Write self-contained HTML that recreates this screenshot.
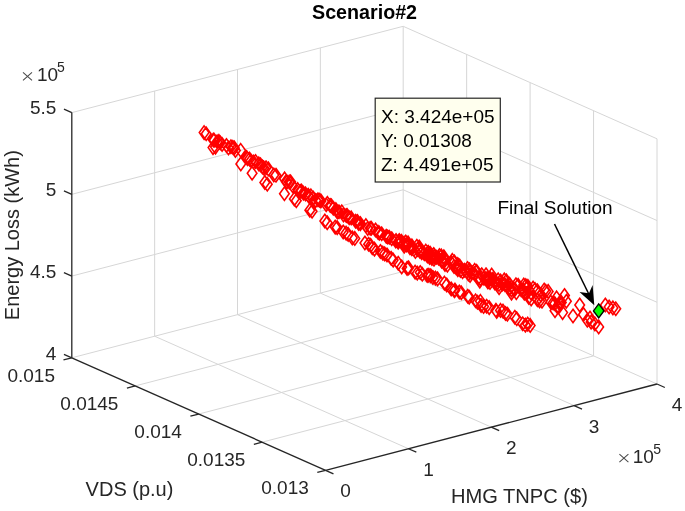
<!DOCTYPE html>
<html><head><meta charset="utf-8"><style>
html,body{margin:0;padding:0;background:#fff;}
svg{display:block;filter:blur(0.4px);}
text{font-family:"Liberation Sans",sans-serif;}
</style></head><body>
<svg width="685" height="511" viewBox="0 0 685 511">
<rect width="685" height="511" fill="#fff"/>
<g shape-rendering="geometricPrecision">
<line x1="154.65" y1="336.23" x2="154.65" y2="91.04" stroke="#d6d6d6" stroke-width="1.0"/>
<line x1="237.50" y1="314.65" x2="237.50" y2="69.46" stroke="#d6d6d6" stroke-width="1.0"/>
<line x1="320.35" y1="293.08" x2="320.35" y2="47.89" stroke="#d6d6d6" stroke-width="1.0"/>
<line x1="403.20" y1="271.50" x2="403.20" y2="26.31" stroke="#d6d6d6" stroke-width="1.0"/>
<line x1="71.80" y1="276.07" x2="403.20" y2="189.77" stroke="#d6d6d6" stroke-width="1.0"/>
<line x1="71.80" y1="194.34" x2="403.20" y2="108.04" stroke="#d6d6d6" stroke-width="1.0"/>
<line x1="71.80" y1="112.61" x2="403.20" y2="26.31" stroke="#d6d6d6" stroke-width="1.0"/>
<line x1="657.00" y1="384.00" x2="657.00" y2="138.81" stroke="#d6d6d6" stroke-width="1.0"/>
<line x1="593.55" y1="355.88" x2="593.55" y2="110.69" stroke="#d6d6d6" stroke-width="1.0"/>
<line x1="530.10" y1="327.75" x2="530.10" y2="82.56" stroke="#d6d6d6" stroke-width="1.0"/>
<line x1="466.65" y1="299.62" x2="466.65" y2="54.43" stroke="#d6d6d6" stroke-width="1.0"/>
<line x1="403.20" y1="189.77" x2="657.00" y2="302.27" stroke="#d6d6d6" stroke-width="1.0"/>
<line x1="403.20" y1="108.04" x2="657.00" y2="220.54" stroke="#d6d6d6" stroke-width="1.0"/>
<line x1="403.20" y1="26.31" x2="657.00" y2="138.81" stroke="#d6d6d6" stroke-width="1.0"/>
<line x1="154.65" y1="336.23" x2="408.45" y2="448.73" stroke="#d6d6d6" stroke-width="1.0"/>
<line x1="237.50" y1="314.65" x2="491.30" y2="427.15" stroke="#d6d6d6" stroke-width="1.0"/>
<line x1="320.35" y1="293.08" x2="574.15" y2="405.58" stroke="#d6d6d6" stroke-width="1.0"/>
<line x1="403.20" y1="271.50" x2="657.00" y2="384.00" stroke="#d6d6d6" stroke-width="1.0"/>
<line x1="262.15" y1="442.17" x2="593.55" y2="355.88" stroke="#d6d6d6" stroke-width="1.0"/>
<line x1="198.70" y1="414.05" x2="530.10" y2="327.75" stroke="#d6d6d6" stroke-width="1.0"/>
<line x1="135.25" y1="385.92" x2="466.65" y2="299.62" stroke="#d6d6d6" stroke-width="1.0"/>
<line x1="71.80" y1="357.80" x2="403.20" y2="271.50" stroke="#d6d6d6" stroke-width="1.0"/>
</g>
<g>
<line x1="71.80" y1="357.80" x2="71.80" y2="112.61" stroke="#262626" stroke-width="1.3"/>
<line x1="71.80" y1="357.80" x2="325.60" y2="470.30" stroke="#262626" stroke-width="1.3"/>
<line x1="325.60" y1="470.30" x2="657.00" y2="384.00" stroke="#262626" stroke-width="1.3"/>
<line x1="71.80" y1="357.80" x2="63.94" y2="354.31" stroke="#262626" stroke-width="1.3"/>
<line x1="71.80" y1="276.07" x2="63.94" y2="272.58" stroke="#262626" stroke-width="1.3"/>
<line x1="71.80" y1="194.34" x2="63.94" y2="190.85" stroke="#262626" stroke-width="1.3"/>
<line x1="71.80" y1="112.61" x2="63.94" y2="109.12" stroke="#262626" stroke-width="1.3"/>
<line x1="325.60" y1="470.30" x2="317.28" y2="472.47" stroke="#262626" stroke-width="1.3"/>
<line x1="262.15" y1="442.17" x2="253.83" y2="444.34" stroke="#262626" stroke-width="1.3"/>
<line x1="198.70" y1="414.05" x2="190.38" y2="416.22" stroke="#262626" stroke-width="1.3"/>
<line x1="135.25" y1="385.92" x2="126.93" y2="388.09" stroke="#262626" stroke-width="1.3"/>
<line x1="71.80" y1="357.80" x2="63.48" y2="359.97" stroke="#262626" stroke-width="1.3"/>
<line x1="325.60" y1="470.30" x2="333.46" y2="473.79" stroke="#262626" stroke-width="1.3"/>
<line x1="408.45" y1="448.73" x2="416.31" y2="452.21" stroke="#262626" stroke-width="1.3"/>
<line x1="491.30" y1="427.15" x2="499.16" y2="430.64" stroke="#262626" stroke-width="1.3"/>
<line x1="574.15" y1="405.58" x2="582.01" y2="409.06" stroke="#262626" stroke-width="1.3"/>
<line x1="657.00" y1="384.00" x2="664.86" y2="387.49" stroke="#262626" stroke-width="1.3"/>
</g>
<g>
<path d="M204.1,125.9L208.9,132.6L204.1,139.3L199.3,132.6ZM206.2,127.1L211.0,133.8L206.2,140.5L201.4,133.8ZM213.3,133.3L218.1,140.0L213.3,146.7L208.5,140.0ZM214.2,133.6L219.0,140.3L214.2,147.0L209.4,140.3ZM217.1,135.1L221.9,141.8L217.1,148.5L212.3,141.8ZM218.9,134.7L223.7,141.4L218.9,148.1L214.1,141.4ZM220.2,136.0L225.0,142.7L220.2,149.4L215.4,142.7ZM222.1,137.8L226.9,144.5L222.1,151.2L217.3,144.5ZM226.4,138.8L231.2,145.5L226.4,152.2L221.6,145.5ZM228.5,141.3L233.3,148.0L228.5,154.7L223.7,148.0ZM230.9,140.0L235.7,146.7L230.9,153.4L226.1,146.7ZM232.8,140.6L237.6,147.3L232.8,154.0L228.0,147.3ZM234.3,141.2L239.1,147.9L234.3,154.6L229.5,147.9ZM235.4,143.8L240.2,150.5L235.4,157.2L230.6,150.5ZM240.7,143.6L245.5,150.3L240.7,157.0L235.9,150.3ZM246.6,150.8L251.4,157.5L246.6,164.2L241.8,157.5ZM247.5,152.1L252.3,158.8L247.5,165.5L242.7,158.8ZM249.6,152.4L254.4,159.1L249.6,165.8L244.8,159.1ZM251.0,154.1L255.8,160.8L251.0,167.5L246.2,160.8ZM253.4,155.3L258.2,162.0L253.4,168.7L248.6,162.0ZM255.5,154.8L260.3,161.5L255.5,168.2L250.7,161.5ZM258.8,157.2L263.6,163.9L258.8,170.6L254.0,163.9ZM260.4,158.0L265.2,164.7L260.4,171.4L255.6,164.7ZM262.4,160.2L267.2,166.9L262.4,173.6L257.6,166.9ZM263.8,161.2L268.6,167.9L263.8,174.6L259.0,167.9ZM266.0,161.0L270.8,167.7L266.0,174.4L261.2,167.7ZM268.4,162.2L273.2,168.9L268.4,175.6L263.6,168.9ZM273.8,168.3L278.6,175.0L273.8,181.7L269.0,175.0ZM276.0,168.5L280.8,175.2L276.0,181.9L271.2,175.2ZM284.6,172.2L289.4,178.9L284.6,185.6L279.8,178.9ZM286.1,174.9L290.9,181.6L286.1,188.3L281.3,181.6ZM287.0,175.3L291.8,182.0L287.0,188.7L282.2,182.0ZM289.2,175.3L294.0,182.0L289.2,188.7L284.4,182.0ZM290.6,175.1L295.4,181.8L290.6,188.5L285.8,181.8ZM292.6,179.0L297.4,185.7L292.6,192.4L287.8,185.7ZM297.6,182.8L302.4,189.5L297.6,196.2L292.8,189.5ZM300.3,184.8L305.1,191.5L300.3,198.2L295.5,191.5ZM301.4,184.3L306.2,191.0L301.4,197.7L296.6,191.0ZM303.4,186.4L308.2,193.1L303.4,199.8L298.6,193.1ZM305.5,187.2L310.3,193.9L305.5,200.6L300.7,193.9ZM308.2,188.5L313.0,195.2L308.2,201.9L303.4,195.2ZM309.0,189.7L313.8,196.4L309.0,203.1L304.2,196.4ZM310.9,189.1L315.7,195.8L310.9,202.5L306.1,195.8ZM313.3,191.4L318.1,198.1L313.3,204.8L308.5,198.1ZM315.8,193.8L320.6,200.5L315.8,207.2L311.0,200.5ZM317.9,193.0L322.7,199.7L317.9,206.4L313.1,199.7ZM319.4,193.5L324.2,200.2L319.4,206.9L314.6,200.2ZM320.9,194.3L325.7,201.0L320.9,207.7L316.1,201.0ZM326.2,198.1L331.0,204.8L326.2,211.5L321.4,204.8ZM327.4,196.6L332.2,203.3L327.4,210.0L322.6,203.3ZM330.2,198.8L335.0,205.5L330.2,212.2L325.4,205.5ZM331.3,199.0L336.1,205.7L331.3,212.4L326.5,205.7ZM333.3,201.5L338.1,208.2L333.3,214.9L328.5,208.2ZM335.9,202.9L340.7,209.6L335.9,216.3L331.1,209.6ZM337.3,205.2L342.1,211.9L337.3,218.6L332.5,211.9ZM339.0,205.1L343.8,211.8L339.0,218.5L334.2,211.8ZM341.8,205.1L346.6,211.8L341.8,218.5L337.0,211.8ZM343.5,208.2L348.3,214.9L343.5,221.6L338.7,214.9ZM346.2,208.8L351.0,215.5L346.2,222.2L341.4,215.5ZM347.3,208.9L352.1,215.6L347.3,222.3L342.5,215.6ZM349.2,211.0L354.0,217.7L349.2,224.4L344.4,217.7ZM351.2,211.2L356.0,217.9L351.2,224.6L346.4,217.9ZM355.6,214.5L360.4,221.2L355.6,227.9L350.8,221.2ZM357.4,214.8L362.2,221.5L357.4,228.2L352.6,221.5ZM358.6,216.8L363.4,223.5L358.6,230.2L353.8,223.5ZM360.4,216.9L365.2,223.6L360.4,230.3L355.6,223.6ZM365.9,218.9L370.7,225.6L365.9,232.3L361.1,225.6ZM367.7,221.8L372.5,228.5L367.7,235.2L362.9,228.5ZM370.2,221.6L375.0,228.3L370.2,235.0L365.4,228.3ZM371.4,221.6L376.2,228.3L371.4,235.0L366.6,228.3ZM375.5,223.3L380.3,230.0L375.5,236.7L370.7,230.0ZM378.1,225.7L382.9,232.4L378.1,239.1L373.3,232.4ZM379.4,226.4L384.2,233.1L379.4,239.8L374.6,233.1ZM381.7,227.1L386.5,233.8L381.7,240.5L376.9,233.8ZM386.2,229.5L391.0,236.2L386.2,242.9L381.4,236.2ZM387.6,230.3L392.4,237.0L387.6,243.7L382.8,237.0ZM389.3,230.6L394.1,237.3L389.3,244.0L384.5,237.3ZM391.7,232.0L396.5,238.7L391.7,245.4L386.9,238.7ZM395.7,234.3L400.5,241.0L395.7,247.7L390.9,241.0ZM398.2,235.6L403.0,242.3L398.2,249.0L393.4,242.3ZM396.0,233.8L400.8,240.5L396.0,247.2L391.2,240.5ZM398.4,235.1L403.2,241.8L398.4,248.5L393.6,241.8ZM399.2,233.8L404.0,240.5L399.2,247.2L394.4,240.5ZM401.5,234.6L406.3,241.3L401.5,248.0L396.7,241.3ZM404.2,239.6L409.0,246.3L404.2,253.0L399.4,246.3ZM404.1,236.7L408.9,243.4L404.1,250.1L399.3,243.4ZM406.5,238.3L411.3,245.0L406.5,251.7L401.7,245.0ZM405.7,235.3L410.5,242.0L405.7,248.7L400.9,242.0ZM408.1,236.2L412.9,242.9L408.1,249.6L403.3,242.9ZM409.9,240.9L414.7,247.6L409.9,254.3L405.1,247.6ZM411.8,242.0L416.6,248.7L411.8,255.4L407.0,248.7ZM413.9,242.8L418.7,249.5L413.9,256.2L409.1,249.5ZM411.9,239.2L416.7,245.9L411.9,252.6L407.1,245.9ZM415.4,244.8L420.2,251.5L415.4,258.2L410.6,251.5ZM417.5,242.8L422.3,249.5L417.5,256.2L412.7,249.5ZM419.7,243.5L424.5,250.2L419.7,256.9L414.9,250.2ZM416.8,239.5L421.6,246.2L416.8,252.9L412.0,246.2ZM419.2,240.3L424.0,247.0L419.2,253.7L414.4,247.0ZM419.8,244.6L424.6,251.3L419.8,258.0L415.0,251.3ZM421.7,246.0L426.5,252.7L421.7,259.4L416.9,252.7ZM424.3,247.0L429.1,253.7L424.3,260.4L419.5,253.7ZM425.8,244.4L430.6,251.1L425.8,257.8L421.0,251.1ZM428.2,245.5L433.0,252.2L428.2,258.9L423.4,252.2ZM430.3,246.7L435.1,253.4L430.3,260.1L425.5,253.4ZM427.4,249.3L432.2,256.0L427.4,262.7L422.6,256.0ZM429.6,250.7L434.4,257.4L429.6,264.1L424.8,257.4ZM431.9,251.7L436.7,258.4L431.9,265.1L427.1,258.4ZM432.5,249.9L437.3,256.6L432.5,263.3L427.7,256.6ZM433.7,247.8L438.5,254.5L433.7,261.2L428.9,254.5ZM434.0,252.6L438.8,259.3L434.0,266.0L429.2,259.3ZM434.5,249.8L439.3,256.5L434.5,263.2L429.7,256.5ZM436.5,250.6L441.3,257.3L436.5,264.0L431.7,257.3ZM438.6,251.6L443.4,258.3L438.6,265.0L433.8,258.3ZM439.4,248.9L444.2,255.6L439.4,262.3L434.6,255.6ZM441.3,249.2L446.1,255.9L441.3,262.6L436.5,255.9ZM443.8,250.0L448.6,256.7L443.8,263.4L439.0,256.7ZM441.7,254.6L446.5,261.3L441.7,268.0L436.9,261.3ZM443.9,255.1L448.7,261.8L443.9,268.5L439.1,261.8ZM444.4,252.3L449.2,259.0L444.4,265.7L439.6,259.0ZM445.0,257.8L449.8,264.5L445.0,271.2L440.2,264.5ZM447.4,258.5L452.2,265.2L447.4,271.9L442.6,265.2ZM451.5,256.3L456.3,263.0L451.5,269.7L446.7,263.0ZM452.3,253.6L457.1,260.3L452.3,267.0L447.5,260.3ZM454.4,255.1L459.2,261.8L454.4,268.5L449.6,261.8ZM454.0,259.8L458.8,266.5L454.0,273.2L449.2,266.5ZM455.9,260.8L460.7,267.5L455.9,274.2L451.1,267.5ZM458.2,261.6L463.0,268.3L458.2,275.0L453.4,268.3ZM457.7,257.8L462.5,264.5L457.7,271.2L452.9,264.5ZM459.6,259.3L464.4,266.0L459.6,272.7L454.8,266.0ZM457.8,263.1L462.6,269.8L457.8,276.5L453.0,269.8ZM460.4,263.8L465.2,270.5L460.4,277.2L455.6,270.5ZM462.6,265.0L467.4,271.7L462.6,278.4L457.8,271.7ZM464.4,263.5L469.2,270.2L464.4,276.9L459.6,270.2ZM466.8,264.7L471.6,271.4L466.8,278.1L462.0,271.4ZM467.5,261.8L472.3,268.5L467.5,275.2L462.7,268.5ZM469.6,263.1L474.4,269.8L469.6,276.5L464.8,269.8ZM468.3,267.3L473.1,274.0L468.3,280.7L463.5,274.0ZM470.1,268.8L474.9,275.5L470.1,282.2L465.3,275.5ZM470.1,265.4L474.9,272.1L470.1,278.8L465.3,272.1ZM472.0,266.0L476.8,272.7L472.0,279.4L467.2,272.7ZM474.4,267.0L479.2,273.7L474.4,280.4L469.6,273.7ZM474.7,263.6L479.5,270.3L474.7,277.0L469.9,270.3ZM476.7,264.7L481.5,271.4L476.7,278.1L471.9,271.4ZM478.5,271.1L483.3,277.8L478.5,284.5L473.7,277.8ZM480.3,272.1L485.1,278.8L480.3,285.5L475.5,278.8ZM481.7,268.0L486.5,274.7L481.7,281.4L476.9,274.7ZM479.8,274.4L484.6,281.1L479.8,287.8L475.0,281.1ZM483.9,271.6L488.7,278.3L483.9,285.0L479.1,278.3ZM485.8,271.8L490.6,278.5L485.8,285.2L481.0,278.5ZM487.9,273.0L492.7,279.7L487.9,286.4L483.1,279.7ZM486.0,268.0L490.8,274.7L486.0,281.4L481.2,274.7ZM487.9,275.2L492.7,281.9L487.9,288.6L483.1,281.9ZM490.0,275.7L494.8,282.4L490.0,289.1L485.2,282.4ZM488.1,271.1L492.9,277.8L488.1,284.5L483.3,277.8ZM490.4,271.9L495.2,278.6L490.4,285.3L485.6,278.6ZM492.8,272.7L497.6,279.4L492.8,286.1L488.0,279.4ZM491.7,268.4L496.5,275.1L491.7,281.8L486.9,275.1ZM494.8,276.2L499.6,282.9L494.8,289.6L490.0,282.9ZM496.9,276.9L501.7,283.6L496.9,290.3L492.1,283.6ZM499.0,277.7L503.8,284.4L499.0,291.1L494.2,284.4ZM498.2,273.1L503.0,279.8L498.2,286.5L493.4,279.8ZM500.5,274.3L505.3,281.0L500.5,287.7L495.7,281.0ZM499.1,281.0L503.9,287.7L499.1,294.4L494.3,287.7ZM502.5,277.2L507.3,283.9L502.5,290.6L497.7,283.9ZM505.0,278.0L509.8,284.7L505.0,291.4L500.2,284.7ZM507.4,278.8L512.2,285.5L507.4,292.2L502.6,285.5ZM504.3,273.2L509.1,279.9L504.3,286.6L499.5,279.9ZM506.4,274.1L511.2,280.8L506.4,287.5L501.6,280.8ZM508.9,282.2L513.7,288.9L508.9,295.6L504.1,288.9ZM511.5,283.3L516.3,290.0L511.5,296.7L506.7,290.0ZM509.5,277.5L514.3,284.2L509.5,290.9L504.7,284.2ZM511.5,286.4L516.3,293.1L511.5,299.8L506.7,293.1ZM513.0,281.8L517.8,288.5L513.0,295.2L508.2,288.5ZM514.9,282.8L519.7,289.5L514.9,296.2L510.1,289.5ZM515.9,278.0L520.7,284.7L515.9,291.4L511.1,284.7ZM518.2,278.7L523.0,285.4L518.2,292.1L513.4,285.4ZM516.3,286.0L521.1,292.7L516.3,299.4L511.5,292.7ZM521.1,283.0L525.9,289.7L521.1,296.4L516.3,289.7ZM523.0,283.2L527.8,289.9L523.0,296.6L518.2,289.9ZM523.7,278.3L528.5,285.0L523.7,291.7L518.9,285.0ZM525.8,278.9L530.6,285.6L525.8,292.3L521.0,285.6ZM527.9,279.6L532.7,286.3L527.9,293.0L523.1,286.3ZM524.3,286.5L529.1,293.2L524.3,299.9L519.5,293.2ZM526.5,287.0L531.3,293.7L526.5,300.4L521.7,293.7ZM526.8,281.8L531.6,288.5L526.8,295.2L522.0,288.5ZM528.8,290.7L533.6,297.4L528.8,304.1L524.0,297.4ZM531.2,292.2L536.0,298.9L531.2,305.6L526.4,298.9ZM531.0,286.3L535.8,293.0L531.0,299.7L526.2,293.0ZM533.1,281.4L537.9,288.1L533.1,294.8L528.3,288.1ZM535.1,282.9L539.9,289.6L535.1,296.3L530.3,289.6ZM537.3,284.0L542.1,290.7L537.3,297.4L532.5,290.7ZM537.4,293.0L542.2,299.7L537.4,306.4L532.6,299.7ZM539.6,294.3L544.4,301.0L539.6,307.7L534.8,301.0ZM542.0,294.5L546.8,301.2L542.0,307.9L537.2,301.2ZM541.0,288.5L545.8,295.2L541.0,301.9L536.2,295.2ZM544.2,283.4L549.0,290.1L544.2,296.8L539.4,290.1ZM545.8,284.6L550.6,291.3L545.8,298.0L541.0,291.3ZM548.2,284.7L553.0,291.4L548.2,298.1L543.4,291.4ZM550.8,295.4L555.6,302.1L550.8,308.8L546.0,302.1ZM553.1,296.2L557.9,302.9L553.1,309.6L548.3,302.9ZM554.8,296.9L559.6,303.6L554.8,310.3L550.0,303.6ZM556.6,291.2L561.4,297.9L556.6,304.6L551.8,297.9ZM557.5,300.3L562.3,307.0L557.5,313.7L552.7,307.0ZM559.6,296.1L564.4,302.8L559.6,309.5L554.8,302.8ZM561.3,295.7L566.1,302.4L561.3,309.1L556.5,302.4ZM213.0,140.9L217.8,147.6L213.0,154.3L208.2,147.6ZM215.5,140.4L220.3,147.1L215.5,153.8L210.7,147.1ZM240.8,157.2L245.6,163.9L240.8,170.6L236.0,163.9ZM252.1,166.6L256.9,173.3L252.1,180.0L247.3,173.3ZM264.8,175.8L269.6,182.5L264.8,189.2L260.0,182.5ZM267.3,177.6L272.1,184.3L267.3,191.0L262.5,184.3ZM284.4,187.0L289.2,193.7L284.4,200.4L279.6,193.7ZM294.3,192.3L299.1,199.0L294.3,205.7L289.5,199.0ZM296.3,194.0L301.1,200.7L296.3,207.4L291.5,200.7ZM309.8,203.6L314.6,210.3L309.8,217.0L305.0,210.3ZM310.2,203.1L315.0,209.8L310.2,216.5L305.4,209.8ZM312.1,204.5L316.9,211.2L312.1,217.9L307.3,211.2ZM324.8,214.3L329.6,221.0L324.8,227.7L320.0,221.0ZM327.2,216.0L332.0,222.7L327.2,229.4L322.4,222.7ZM335.2,220.4L340.0,227.1L335.2,233.8L330.4,227.1ZM337.2,220.9L342.0,227.6L337.2,234.3L332.4,227.6ZM343.2,225.3L348.0,232.0L343.2,238.7L338.4,232.0ZM346.1,226.4L350.9,233.1L346.1,239.8L341.3,233.1ZM348.2,227.7L353.0,234.4L348.2,241.1L343.4,234.4ZM352.3,231.2L357.1,237.9L352.3,244.6L347.5,237.9ZM354.8,231.7L359.6,238.4L354.8,245.1L350.0,238.4ZM364.9,236.3L369.7,243.0L364.9,249.7L360.1,243.0ZM368.6,237.5L373.4,244.2L368.6,250.9L363.8,244.2ZM370.7,238.7L375.5,245.4L370.7,252.1L365.9,245.4ZM372.3,241.0L377.1,247.7L372.3,254.4L367.5,247.7ZM374.5,242.4L379.3,249.1L374.5,255.8L369.7,249.1ZM380.4,244.8L385.2,251.5L380.4,258.2L375.6,251.5ZM382.8,246.4L387.6,253.1L382.8,259.8L378.0,253.1ZM384.7,247.2L389.5,253.9L384.7,260.6L379.9,253.9ZM387.0,248.3L391.8,255.0L387.0,261.7L382.2,255.0ZM391.1,251.5L395.9,258.2L391.1,264.9L386.3,258.2ZM393.2,253.4L398.0,260.1L393.2,266.8L388.4,260.1ZM398.2,256.5L403.0,263.2L398.2,269.9L393.4,263.2ZM401.7,260.3L406.5,267.0L401.7,273.7L396.9,267.0ZM407.1,261.7L411.9,268.4L407.1,275.1L402.3,268.4ZM408.6,261.2L413.4,267.9L408.6,274.6L403.8,267.9ZM415.1,265.4L419.9,272.1L415.1,278.8L410.3,272.1ZM417.3,266.4L422.1,273.1L417.3,279.8L412.5,273.1ZM420.2,265.8L425.0,272.5L420.2,279.2L415.4,272.5ZM422.3,267.6L427.1,274.3L422.3,281.0L417.5,274.3ZM427.2,268.8L432.0,275.5L427.2,282.2L422.4,275.5ZM428.8,268.5L433.6,275.2L428.8,281.9L424.0,275.2ZM430.7,269.0L435.5,275.7L430.7,282.4L425.9,275.7ZM432.9,270.8L437.7,277.5L432.9,284.2L428.1,277.5ZM435.5,271.4L440.3,278.1L435.5,284.8L430.7,278.1ZM437.6,272.2L442.4,278.9L437.6,285.6L432.8,278.9ZM444.4,276.4L449.2,283.1L444.4,289.8L439.6,283.1ZM446.7,278.3L451.5,285.0L446.7,291.7L441.9,285.0ZM451.2,282.3L456.0,289.0L451.2,295.7L446.4,289.0ZM455.0,283.4L459.8,290.1L455.0,296.8L450.2,290.1ZM454.4,284.0L459.2,290.7L454.4,297.4L449.6,290.7ZM459.3,285.3L464.1,292.0L459.3,298.7L454.5,292.0ZM461.3,286.1L466.1,292.8L461.3,299.5L456.5,292.8ZM467.7,289.5L472.5,296.2L467.7,302.9L462.9,296.2ZM469.2,290.5L474.0,297.2L469.2,303.9L464.4,297.2ZM475.6,294.1L480.4,300.8L475.6,307.5L470.8,300.8ZM477.4,295.5L482.2,302.2L477.4,308.9L472.6,302.2ZM480.4,294.6L485.2,301.3L480.4,308.0L475.6,301.3ZM481.1,298.8L485.9,305.5L481.1,312.2L476.3,305.5ZM483.6,299.8L488.4,306.5L483.6,313.2L478.8,306.5ZM486.6,299.5L491.4,306.2L486.6,312.9L481.8,306.2ZM489.2,300.9L494.0,307.6L489.2,314.3L484.4,307.6ZM496.7,304.7L501.5,311.4L496.7,318.1L491.9,311.4ZM495.9,303.5L500.7,310.2L495.9,316.9L491.1,310.2ZM500.5,303.7L505.3,310.4L500.5,317.1L495.7,310.4ZM503.0,304.4L507.8,311.1L503.0,317.8L498.2,311.1ZM505.5,306.8L510.3,313.5L505.5,320.2L500.7,313.5ZM507.4,307.5L512.2,314.2L507.4,320.9L502.6,314.2ZM514.8,310.5L519.6,317.2L514.8,323.9L510.0,317.2ZM516.8,312.1L521.6,318.8L516.8,325.5L512.0,318.8ZM522.7,317.1L527.5,323.8L522.7,330.5L517.9,323.8ZM525.4,318.4L530.2,325.1L525.4,331.8L520.6,325.1ZM527.7,317.4L532.5,324.1L527.7,330.8L522.9,324.1ZM530.2,318.7L535.0,325.4L530.2,332.1L525.4,325.4ZM573.0,309.3L577.8,316.0L573.0,322.7L568.2,316.0ZM579.7,298.3L584.5,305.0L579.7,311.7L574.9,305.0ZM583.5,307.8L588.3,314.5L583.5,321.2L578.7,314.5ZM587.3,313.5L592.1,320.2L587.3,326.9L582.5,320.2ZM591.1,315.4L595.9,322.1L591.1,328.8L586.3,322.1ZM594.9,317.3L599.7,324.0L594.9,330.7L590.1,324.0ZM598.7,320.2L603.5,326.9L598.7,333.6L593.9,326.9ZM590.0,311.3L594.8,318.0L590.0,324.7L585.2,318.0ZM605.3,298.3L610.1,305.0L605.3,311.7L600.5,305.0ZM609.1,300.3L613.9,307.0L609.1,313.7L604.3,307.0ZM612.9,301.2L617.7,307.9L612.9,314.6L608.1,307.9ZM615.8,302.1L620.6,308.8L615.8,315.5L611.0,308.8ZM564.5,288.8L569.3,295.5L564.5,302.2L559.7,295.5ZM566.4,294.5L571.2,301.2L566.4,307.9L561.6,301.2ZM558.8,300.3L563.6,307.0L558.8,313.7L554.0,307.0ZM562.6,305.9L567.4,312.6L562.6,319.3L557.8,312.6ZM555.0,304.0L559.8,310.7L555.0,317.4L550.2,310.7Z" fill="none" stroke="#ff0000" stroke-width="1.6"/>
<path d="M598.7,303.9L603.9,310.9L598.7,317.9L593.5,310.9Z" fill="#00ff00" stroke="#000" stroke-width="1.4"/>
</g>
<text x="56.30" y="359.60" font-size="19" text-anchor="end" font-weight="normal" fill="#262626" >4</text>
<text x="56.30" y="277.87" font-size="19" text-anchor="end" font-weight="normal" fill="#262626" >4.5</text>
<text x="56.30" y="196.14" font-size="19" text-anchor="end" font-weight="normal" fill="#262626" >5</text>
<text x="56.30" y="114.41" font-size="19" text-anchor="end" font-weight="normal" fill="#262626" >5.5</text>
<text x="55.00" y="381.80" font-size="19" text-anchor="end" font-weight="normal" fill="#262626" >0.015</text>
<text x="118.45" y="409.92" font-size="19" text-anchor="end" font-weight="normal" fill="#262626" >0.0145</text>
<text x="181.90" y="438.05" font-size="19" text-anchor="end" font-weight="normal" fill="#262626" >0.014</text>
<text x="245.35" y="466.17" font-size="19" text-anchor="end" font-weight="normal" fill="#262626" >0.0135</text>
<text x="308.80" y="494.30" font-size="19" text-anchor="end" font-weight="normal" fill="#262626" >0.013</text>
<text x="345.60" y="497.30" font-size="19" text-anchor="middle" font-weight="normal" fill="#262626" >0</text>
<text x="428.45" y="475.73" font-size="19" text-anchor="middle" font-weight="normal" fill="#262626" >1</text>
<text x="511.30" y="454.15" font-size="19" text-anchor="middle" font-weight="normal" fill="#262626" >2</text>
<text x="594.15" y="432.58" font-size="19" text-anchor="middle" font-weight="normal" fill="#262626" >3</text>
<text x="677.00" y="411.00" font-size="19" text-anchor="middle" font-weight="normal" fill="#262626" >4</text>
<text x="37.00" y="80.80" font-size="19" text-anchor="start" font-weight="normal" fill="#262626" >10</text>
<text x="57.00" y="71.80" font-size="14" text-anchor="start" font-weight="normal" fill="#262626" >5</text>
<text x="632.80" y="463.00" font-size="19" text-anchor="start" font-weight="normal" fill="#262626" >10</text>
<text x="653.20" y="453.80" font-size="14" text-anchor="start" font-weight="normal" fill="#262626" >5</text>
<path d="M23,72.3L32,80.3M32,72.3L23,80.3M619.4,454.1L628.4,462.1M628.4,454.1L619.4,462.1" stroke="#4a4a4a" stroke-width="1.05" fill="none"/>
<text x="85.60" y="495.60" font-size="20" text-anchor="start" font-weight="normal" fill="#262626" >VDS (p.u)</text>
<text x="450.90" y="502.70" font-size="20.1" text-anchor="start" font-weight="normal" fill="#262626" >HMG TNPC ($)</text>
<text x="18.80" y="320.20" font-size="20" text-anchor="start" font-weight="normal" fill="#262626" transform="rotate(-90 18.8 320.2)">Energy Loss (kWh)</text>
<text x="312.00" y="18.80" font-size="19.7" text-anchor="start" font-weight="bold" fill="#000" >Scenario#2</text>
<rect x="375.2" y="98.2" width="125.1" height="83.8" fill="#ffffee" stroke="#262626" stroke-width="1.2"/>
<text x="381" y="123.10" font-size="19" fill="#000">X: 3.424e+05</text>
<text x="381" y="146.90" font-size="19" fill="#000">Y: 0.01308</text>
<text x="381" y="170.70" font-size="19" fill="#000">Z: 4.491e+05</text>
<text x="497.4" y="214.2" font-size="19" fill="#000">Final Solution</text>
<line x1="554.5" y1="224" x2="589.5" y2="295.5" stroke="#000" stroke-width="1.5"/>
<path d="M594.3,305.3 L579.5,291.9 L589.0,293.3 L592.6,285.0 Z" fill="#000"/>
</svg>
</body></html>
